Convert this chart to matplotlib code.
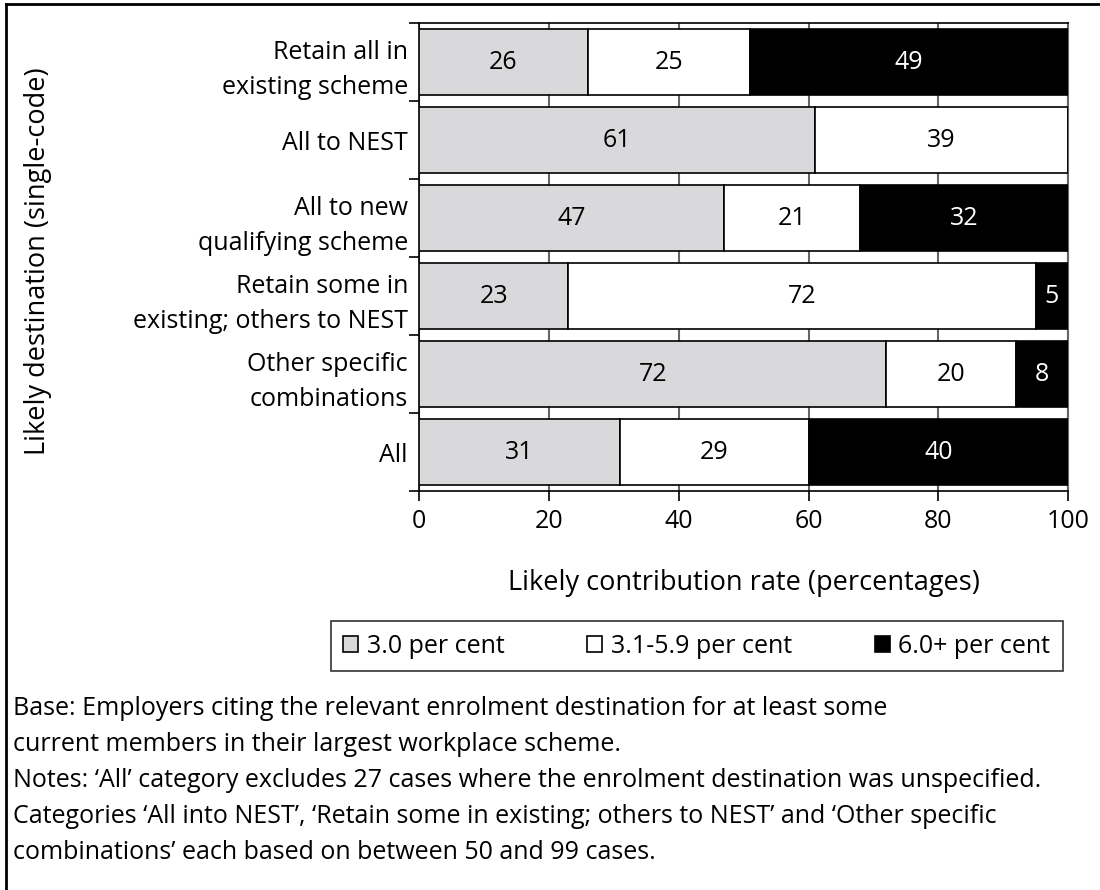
import numpy as np
import matplotlib
matplotlib.use("Agg")
import matplotlib.pyplot as plt
from matplotlib.lines import Line2D

plt.rcParams['font.family'] = ['Open Sans', 'DejaVu Sans']

# Data
categories = ["Retain all in\nexisting scheme", "All to NEST", "All to new\nqualifying scheme",
              "Retain some in\nexisting; others to NEST", "Other specific\ncombinations", "All"]
rate_30 = [26, 61, 47, 23, 72, 31]
rate_31_59 = [25, 39, 21, 72, 20, 29]
rate_60 = [49, 0, 32, 5, 8, 40]
series_names = ["3.0 per cent", "3.1-5.9 per cent", "6.0+ per cent"]
series_colors = ["#d9d9db", "#ffffff", "#000000"]
text_colors = ["#000000", "#000000", "#ffffff"]

notes = ("Base: Employers citing the relevant enrolment destination for at least some\n"
         "current members in their largest workplace scheme.\n"
         "Notes: \u2018All\u2019 category excludes 27 cases where the enrolment destination was unspecified.\n"
         "Categories \u2018All into NEST\u2019, \u2018Retain some in existing; others to NEST\u2019 and \u2018Other specific\n"
         "combinations\u2019 each based on between 50 and 99 cases.")

fig = plt.figure(figsize=(11, 8.9), dpi=100)
ax = fig.add_axes([0.381, 0.448, 0.590, 0.526])

y = np.arange(len(categories))
left = np.zeros(len(categories))
for vals, name, col, tcol in zip([rate_30, rate_31_59, rate_60], series_names, series_colors, text_colors):
    vals = np.array(vals)
    bars = ax.barh(y, vals, left=left, height=0.85, color=col, edgecolor="black",
                   linewidth=1.2, label=name, zorder=3)
    for b, v, l in zip(bars, vals, left):
        if v > 0:
            ax.text(l + v / 2, b.get_y() + b.get_height() / 2, str(v), ha="center", va="center",
                    fontsize=18, color=tcol, zorder=4)
    left += vals

ax.set_xlim(0, 100)
ax.set_ylim(len(categories) - 0.5, -0.5)
ax.set_xticks([0, 20, 40, 60, 80, 100])
ax.tick_params(axis="x", direction="out", length=7, width=1.2, labelsize=18, pad=6)
ax.set_yticks(y)
ax.set_yticklabels(categories, fontsize=18, linespacing=1.5)
ax.tick_params(axis="y", which="major", length=0, pad=8)
ax.set_yticks(np.arange(len(categories) + 1) - 0.5, minor=True)
ax.tick_params(axis="y", which="minor", direction="out", length=7, width=1.2)
ax.xaxis.grid(True, color="#666666", linewidth=1.5, zorder=0)
ax.set_axisbelow(True)

for s in ["left", "bottom", "top"]:
    ax.spines[s].set_color("black")
    ax.spines[s].set_linewidth(1.2)
ax.spines["right"].set_color("#666666")
ax.spines["right"].set_linewidth(1.5)

ax.set_xlabel("Likely contribution rate (percentages)", fontsize=19.5, labelpad=25)
fig.text(0.035, 0.706, "Likely destination (single-code)", rotation=90, fontsize=19.5,
         ha="center", va="center")

leg = ax.legend(loc="upper center", bbox_to_anchor=(0.428, -0.278), ncol=3, frameon=True,
                fancybox=False, edgecolor="black", fontsize=18, handlelength=0.6,
                handleheight=0.6, handletextpad=0.35, columnspacing=3.3, borderpad=0.5,
                borderaxespad=0)
leg.get_frame().set_linewidth(1.2)

fig.text(0.012, 0.123, notes, fontsize=18, ha="left", va="center", linespacing=1.58)

# outer frame
fig.add_artist(Line2D([0.005, 0.005], [0.0, 0.995], color="black", linewidth=2, transform=fig.transFigure))
fig.add_artist(Line2D([0.005, 1.0], [0.995, 0.995], color="black", linewidth=2, transform=fig.transFigure))

fig.savefig("out.png", dpi=100)
